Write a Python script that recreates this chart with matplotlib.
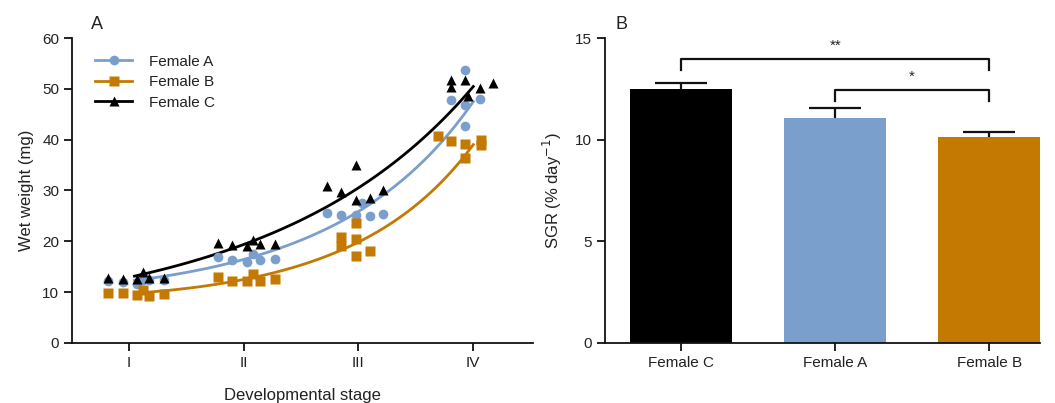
import numpy as np
import matplotlib
matplotlib.use('Agg')
import matplotlib.pyplot as plt

plt.rcParams['font.family'] = ['Liberation Sans', 'DejaVu Sans']

# Panel A: wet weight per developmental stage (x = stage with column scatter)
stage_labels = ['I', 'II', 'III', 'IV']

femaleA_x = [0.82, 0.95, 1.07, 1.12, 1.18, 1.31,
             1.78, 1.90, 2.03, 2.08, 2.14, 2.27,
             2.73, 2.85, 2.98, 3.03, 3.10, 3.21,
             3.81, 3.93, 3.93, 3.93, 4.06]
femaleA_y = [12.2, 12.0, 11.6, 12.3, 12.4, 12.3,
             17.0, 16.3, 16.0, 17.6, 16.3, 16.5,
             25.5, 25.2, 25.2, 27.5, 24.9, 25.4,
             47.9, 53.8, 46.8, 42.6, 48.0]

femaleB_x = [0.82, 0.95, 1.07, 1.12, 1.18, 1.31,
             1.78, 1.90, 2.03, 2.08, 2.14, 2.27,
             2.85, 2.85, 2.98, 2.98, 2.98, 3.10,
             3.69, 3.81, 3.93, 3.93, 4.07, 4.07]
femaleB_y = [9.9, 9.8, 9.4, 10.4, 9.2, 9.6,
             12.9, 12.2, 12.1, 13.6, 12.1, 12.6,
             20.9, 19.0, 23.6, 20.4, 17.1, 18.0,
             40.8, 39.7, 39.2, 36.3, 39.9, 38.9]

femaleC_x = [0.82, 0.95, 1.07, 1.12, 1.18, 1.31,
             1.78, 1.90, 2.03, 2.08, 2.14, 2.27,
             2.73, 2.85, 2.98, 2.98, 3.10, 3.21,
             3.81, 3.81, 3.93, 3.95, 4.06, 4.17]
femaleC_y = [12.7, 12.6, 12.5, 14.0, 12.8, 12.7,
             19.6, 19.3, 19.0, 20.3, 19.5, 19.4,
             30.8, 29.8, 35.0, 28.1, 28.5, 30.1,
             51.7, 50.4, 51.7, 48.5, 50.1, 51.1]

# Panel B: specific growth rate
sgr_groups = ['Female C', 'Female A', 'Female B']
sgr_mean = [12.5, 11.05, 10.15]
sgr_err = [0.3, 0.5, 0.25]

blue = '#7A9FCC'
orange = '#C47A02'
black = '#000000'
txt = '#222222'

fig = plt.figure(figsize=(10.55, 4.03), dpi=100)
axA = fig.add_axes([0.0687, 0.1489, 0.4365, 0.7568])
axB = fig.add_axes([0.5735, 0.1489, 0.4123, 0.7568])


def growth_fit(x, y):
    # quadratic fit of log(weight) against stage (growth curve)
    st = np.round(x)
    c = np.polyfit(st, np.log(y), 2)
    xs = np.linspace(1.05, 4.0, 100)
    return xs, np.exp(np.polyval(c, xs))


series = [
    ('Female A', femaleA_x, femaleA_y, blue, 'o', 7),
    ('Female B', femaleB_x, femaleB_y, orange, 's', 7),
    ('Female C', femaleC_x, femaleC_y, black, '^', 7),
]
for name, x, y, col, mk, ms in series:
    xs, ys = growth_fit(np.array(x), np.array(y))
    axA.plot(xs, ys, color=col, lw=2, zorder=2)
    axA.plot(x, y, ls='none', marker=mk, ms=ms, color=col, mec='none', zorder=3)
    axA.plot([], [], color=col, lw=2, marker=mk, ms=ms, mec='none', label=name)

axA.set_xlim(0.51, 4.52)
axA.set_ylim(0, 60)
axA.set_xticks([1, 2, 3, 4])
axA.set_xticklabels(stage_labels)
axA.set_yticks(range(0, 61, 10))
axA.set_ylabel('Wet weight (mg)', fontsize=12, color=txt, labelpad=6)
axA.set_xlabel('Developmental stage', fontsize=12, color=txt, labelpad=13)
leg = axA.legend(loc='upper left', bbox_to_anchor=(0.02, 0.99), frameon=False,
                 fontsize=11, handlelength=2.4, labelspacing=0.42, handletextpad=1.1)
for t in leg.get_texts():
    t.set_color(txt)
axA.text(0.04, 1.03, 'A', transform=axA.transAxes, fontsize=13, color=txt)

# bars with upper-only error bars
pos = np.arange(len(sgr_groups))
axB.bar(pos, sgr_mean, width=0.66, color=[black, blue, orange], zorder=2)
tops = np.array(sgr_mean) + np.array(sgr_err)
axB.vlines(pos, sgr_mean, tops, color='#111111', lw=1.6, zorder=3)
axB.hlines(tops, pos - 0.17, pos + 0.17, color='#111111', lw=1.6, zorder=3)

# significance brackets
brackets = [(0, 2, 13.95, 13.45, '**'), (1, 2, 12.45, 11.92, '*')]
for i0, i1, top, leg_y, lab in brackets:
    axB.plot([pos[i0], pos[i0], pos[i1], pos[i1]], [leg_y, top, top, leg_y],
             color='#111111', lw=1.6, clip_on=False)
    axB.text((pos[i0] + pos[i1]) / 2, top + 0.3, lab, ha='center', va='bottom',
             fontsize=11, color=txt)

axB.set_xlim(-0.494, 2.33)
axB.set_ylim(0, 15)
axB.set_yticks([0, 5, 10, 15])
axB.set_xticks(pos)
axB.set_xticklabels(sgr_groups)
axB.set_ylabel('SGR (% day$^{-1}$)', fontsize=12, color=txt, labelpad=8)
axB.text(0.025, 1.03, 'B', transform=axB.transAxes, fontsize=13, color=txt)

for ax in (axA, axB):
    for s in ('top', 'right'):
        ax.spines[s].set_visible(False)
    for s in ('left', 'bottom'):
        ax.spines[s].set_linewidth(1.3)
        ax.spines[s].set_color('#111111')
    ax.tick_params(direction='out', length=6, width=1.3, color='#111111',
                   labelsize=11, labelcolor=txt)

fig.savefig('out.png', dpi=100)
